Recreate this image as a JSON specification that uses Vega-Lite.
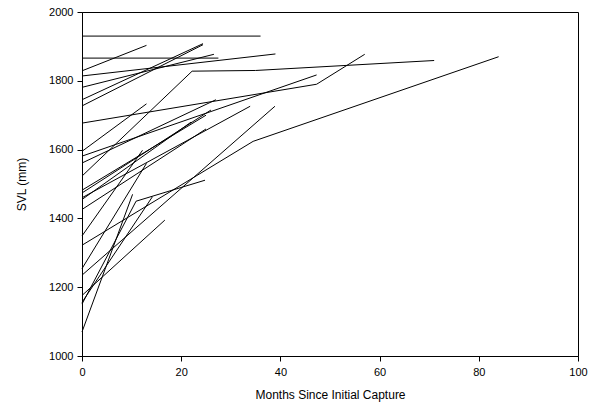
{
  "$schema": "https://vega.github.io/schema/vega-lite/v6.json",
  "autosize": {"type": "none"},
  "padding": {"left": 82, "top": 12, "right": 11, "bottom": 59},
  "width": 496,
  "height": 344,
  "config": {
    "view": {"stroke": "#000", "strokeWidth": 1},
    "font": "Liberation Sans",
    "axis": {"grid": false, "domainColor": "#000", "tickColor": "#000", "labelColor": "#000", "titleColor": "#000", "labelFont": "Liberation Sans", "titleFont": "Liberation Sans", "labelFontSize": 11, "titleFontSize": 12, "titleFontWeight": "normal", "tickSize": 5, "labelFlush": false, "labelOverlap": false}
  },
  "data": {"values": [
    {"id": 1, "m": 0, "svl": 1930}, {"id": 1, "m": 36, "svl": 1930},
    {"id": 2, "m": 0, "svl": 1866}, {"id": 2, "m": 27.5, "svl": 1866},
    {"id": 3, "m": 0, "svl": 1829}, {"id": 3, "m": 13, "svl": 1903},
    {"id": 4, "m": 0, "svl": 1814}, {"id": 4, "m": 39, "svl": 1878},
    {"id": 5, "m": 0, "svl": 1781}, {"id": 5, "m": 26.6, "svl": 1877},
    {"id": 6, "m": 0, "svl": 1745}, {"id": 6, "m": 24.4, "svl": 1908},
    {"id": 7, "m": 0, "svl": 1727}, {"id": 7, "m": 24.4, "svl": 1905},
    {"id": 8, "m": 0, "svl": 1677}, {"id": 8, "m": 47.3, "svl": 1790}, {"id": 8, "m": 57, "svl": 1877},
    {"id": 9, "m": 0, "svl": 1523}, {"id": 9, "m": 22.2, "svl": 1828}, {"id": 9, "m": 35, "svl": 1830}, {"id": 9, "m": 71, "svl": 1859},
    {"id": 10, "m": 0, "svl": 1581}, {"id": 10, "m": 47.3, "svl": 1817},
    {"id": 11, "m": 0, "svl": 1595}, {"id": 11, "m": 13, "svl": 1733},
    {"id": 12, "m": 0, "svl": 1322}, {"id": 12, "m": 34.5, "svl": 1624}, {"id": 12, "m": 84, "svl": 1870},
    {"id": 13, "m": 0, "svl": 1235}, {"id": 13, "m": 38.9, "svl": 1726},
    {"id": 14, "m": 0, "svl": 1070}, {"id": 14, "m": 10.2, "svl": 1470},
    {"id": 15, "m": 0, "svl": 1151}, {"id": 15, "m": 10.9, "svl": 1450}, {"id": 15, "m": 24.8, "svl": 1511},
    {"id": 16, "m": 0, "svl": 1156}, {"id": 16, "m": 14.2, "svl": 1463},
    {"id": 17, "m": 0, "svl": 1176}, {"id": 17, "m": 16.7, "svl": 1395},
    {"id": 18, "m": 0, "svl": 1561}, {"id": 18, "m": 27, "svl": 1745},
    {"id": 19, "m": 0, "svl": 1482}, {"id": 19, "m": 25, "svl": 1700},
    {"id": 20, "m": 0, "svl": 1474}, {"id": 20, "m": 26, "svl": 1715},
    {"id": 21, "m": 0, "svl": 1460}, {"id": 21, "m": 33.9, "svl": 1726},
    {"id": 22, "m": 0, "svl": 1455}, {"id": 22, "m": 22, "svl": 1680},
    {"id": 23, "m": 0, "svl": 1426}, {"id": 23, "m": 25, "svl": 1660},
    {"id": 24, "m": 0, "svl": 1349}, {"id": 24, "m": 12.2, "svl": 1598},
    {"id": 25, "m": 0, "svl": 1254}, {"id": 25, "m": 13, "svl": 1560}
  ]},
  "mark": {"type": "line", "color": "#000", "strokeWidth": 1},
  "encoding": {
    "x": {"field": "m", "type": "quantitative", "scale": {"domain": [0, 100]}, "axis": {"values": [0, 20, 40, 60, 80, 100], "format": "d", "title": "Months Since Initial Capture", "titlePadding": 12, "labelPadding": 5}},
    "y": {"field": "svl", "type": "quantitative", "scale": {"domain": [1000, 2000]}, "axis": {"values": [1000, 1200, 1400, 1600, 1800, 2000], "format": "d", "title": "SVL (mm)", "titlePadding": 20, "labelPadding": 4}},
    "detail": {"field": "id", "type": "nominal"},
    "order": {"field": "m", "type": "quantitative"}
  }
}
